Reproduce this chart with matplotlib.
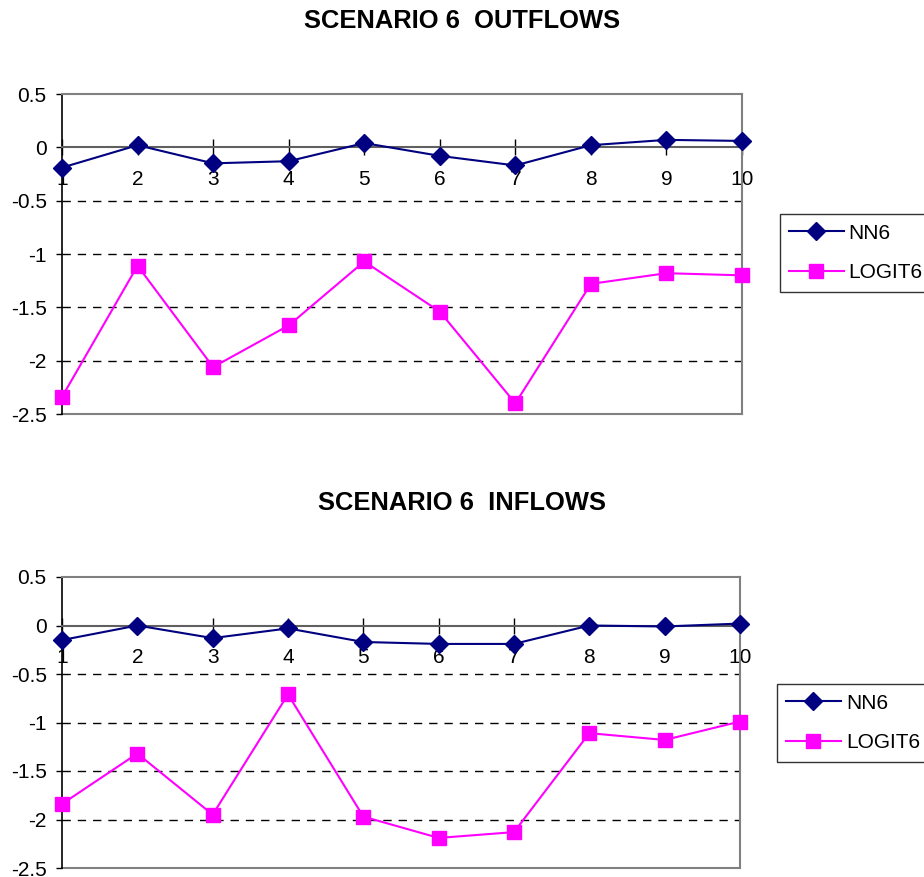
import matplotlib
matplotlib.use("Agg")
import matplotlib.pyplot as plt
from matplotlib.ticker import FixedLocator

plt.rcParams['font.family'] = ['Liberation Sans', 'DejaVu Sans']

x = [1, 2, 3, 4, 5, 6, 7, 8, 9, 10]
x_labels = ['1', '2', '3', '4', '5', '6', '7', '8', '9', '10']

out_nn6 = [-0.19, 0.02, -0.15, -0.13, 0.04, -0.08, -0.17, 0.02, 0.07, 0.06]
out_logit6 = [-2.34, -1.11, -2.06, -1.67, -1.07, -1.54, -2.40, -1.28, -1.18, -1.20]

in_nn6 = [-0.15, 0.00, -0.13, -0.03, -0.17, -0.19, -0.19, 0.00, -0.01, 0.02]
in_logit6 = [-1.84, -1.32, -1.95, -0.71, -1.97, -2.19, -2.13, -1.11, -1.18, -0.99]

y_ticks = [-2.5, -2.0, -1.5, -1.0, -0.5, 0.0, 0.5]
y_labels = ['-2.5', '-2', '-1.5', '-1', '-0.5', '0', '0.5']
grid_levels = [-2.0, -1.5, -1.0, -0.5]

titles = ['SCENARIO 6  OUTFLOWS', 'SCENARIO 6  INFLOWS']
series_names = ['NN6', 'LOGIT6']

W, H = 924, 877
fig = plt.figure(figsize=(W / 100, H / 100), dpi=100)


def px_axes(left, top, right, bottom):
    return fig.add_axes([left / W, 1 - bottom / H, (right - left) / W, (bottom - top) / H])


def draw(ax, nn, lg, title, title_y, leg_box):
    ax.set_xlim(1, 10)
    ax.set_ylim(-2.5, 0.5)
    for g in grid_levels:
        ax.axhline(g, color='black', lw=1.0, ls=(0, (6, 5)), zorder=1)
    ax.axhline(-2.5, color='#808080', lw=1.5, zorder=1, clip_on=False)
    ax.plot(x, nn, color='#000080', lw=1.5, marker='D', ms=9,
            mfc='#000080', mec='#000080', label=series_names[0], zorder=3, clip_on=False)
    ax.plot(x, lg, color='#FF00FF', lw=1.5, marker='s', ms=9.5,
            mfc='#FF00FF', mec='#FF00FF', label=series_names[1], zorder=3, clip_on=False)

    for s in ['top', 'right']:
        ax.spines[s].set_color('#808080')
        ax.spines[s].set_linewidth(1.5)
    ax.spines['left'].set_color('black')
    ax.spines['left'].set_linewidth(1.2)
    ax.spines['bottom'].set_position(('data', 0))
    ax.spines['bottom'].set_color('#606060')
    ax.spines['bottom'].set_linewidth(1.5)

    ax.xaxis.set_major_locator(FixedLocator(x))
    ax.set_xticklabels(x_labels)
    ax.yaxis.set_major_locator(FixedLocator(y_ticks))
    ax.set_yticklabels(y_labels)
    ax.tick_params(axis='x', direction='inout', length=12, width=1, color='black',
                   pad=10.5, labelsize=15)
    ax.tick_params(axis='y', direction='out', length=4, width=1, color='black',
                   pad=7, labelsize=15)

    fig.text(462 / W, 1 - title_y / H, title, ha='center', va='center',
             fontsize=18.4, fontweight='bold')

    l, t, r, b = leg_box
    leg = fig.legend(loc='center left',
                     bbox_to_anchor=(l / W, 1 - (t + b) / 2 / H),
                     fontsize=15, frameon=True, fancybox=False, edgecolor='black',
                     handlelength=2.6, handletextpad=0.25, borderpad=0.45,
                     labelspacing=1.0, borderaxespad=0,
                     handles=ax.get_lines()[-2:])
    leg.get_frame().set_linewidth(1.0)


ax1 = px_axes(62, 94, 742, 414)
draw(ax1, out_nn6, out_logit6, titles[0], 21, (780, 214, 924, 292))

ax2 = px_axes(62, 577, 740, 868)
draw(ax2, in_nn6, in_logit6, titles[1], 503, (777, 684, 924, 762))

fig.savefig('out.png', dpi=100)
